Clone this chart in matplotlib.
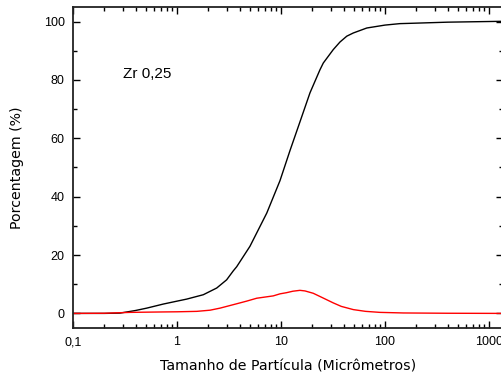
import matplotlib
matplotlib.use("Agg")
from matplotlib import pyplot as plt
from matplotlib.ticker import FixedLocator, FuncFormatter, LogLocator, MultipleLocator

# particle size (micrometres) and cumulative percentage (black curve)
size_cum = [0.1, 0.2, 0.283, 0.4, 0.511, 0.738, 1.0, 1.24, 1.79, 2.41, 3.0, 3.48, 3.75,
            5.03, 7.3, 9.78, 12.2, 15.2, 19.0, 23.7, 25.5, 31.8, 36.9, 42.9, 49.6,
            66.8, 100, 139, 174, 400, 1363]
cumulative = [0.0, 0.0, 0.1, 1.0, 1.8, 3.2, 4.2, 4.9, 6.4, 8.7, 11.5, 14.6, 16.0,
              23.0, 34.4, 45.5, 55.8, 65.6, 75.6, 83.5, 85.8, 90.4, 93.0, 95.0, 96.1,
              97.8, 98.8, 99.3, 99.4, 99.8, 100.1]

# particle size (micrometres) and differential percentage (red curve)
size_diff = [0.1, 0.2, 0.353, 0.738, 1.0, 1.55, 2.08, 2.59, 3.75, 4.67, 5.84, 8.42, 9.78,
             11.3, 13.0, 15.2, 17.0, 20.4, 25.0, 31.8, 38.0, 49.6, 65.0, 89.5, 150, 400, 1363]
differential = [0.0, 0.05, 0.35, 0.5, 0.55, 0.7, 1.1, 1.8, 3.3, 4.2, 5.2, 6.0, 6.7,
                7.1, 7.6, 7.9, 7.7, 6.9, 5.4, 3.6, 2.4, 1.3, 0.7, 0.35, 0.15, 0.05, 0.0]

x_ticks = [0.1, 1, 10, 100, 1000]
x_ticklabels = ["0,1", "1", "10", "100", "1000"]
y_ticks = [0, 20, 40, 60, 80, 100]

plt.rcParams['font.family'] = ['Liberation Sans', 'DejaVu Sans']

fig = plt.figure(figsize=(5.02, 3.78), dpi=100)
ax = fig.add_axes([0.1454, 0.1323, 0.8566, 0.8492])

ax.plot(size_cum, cumulative, color='black', lw=1.0)
ax.plot(size_diff, differential, color='red', lw=1.0)

ax.set_xscale('log')
ax.set_xlim(0.1, 1363)
ax.set_ylim(-5, 105)

ax.xaxis.set_major_locator(FixedLocator(x_ticks))
ax.xaxis.set_major_formatter(FuncFormatter(lambda v, p: x_ticklabels[x_ticks.index(v)] if v in x_ticks else ""))
ax.xaxis.set_minor_locator(LogLocator(base=10, subs=range(2, 10)))
ax.xaxis.set_minor_formatter(FuncFormatter(lambda v, p: ""))
ax.yaxis.set_major_locator(FixedLocator(y_ticks))
ax.yaxis.set_minor_locator(MultipleLocator(10))

ax.tick_params(which='both', direction='in', top=True, right=True, labelsize=9, pad=6)
ax.tick_params(which='major', length=5, width=1)
ax.tick_params(which='minor', length=3, width=1)
for s in ax.spines.values():
    s.set_linewidth(1.3)
    s.set_color('#222222')

ax.set_xlabel('Tamanho de Partícula (Micrômetros)', fontsize=10.2, family='DejaVu Sans', labelpad=8)
ax.set_ylabel('Porcentagem (%)', fontsize=10.2, family='DejaVu Sans', labelpad=14)
ax.text(0.116, 0.78, 'Zr 0,25', transform=ax.transAxes, fontsize=11)

fig.savefig('out.png', dpi=100)
